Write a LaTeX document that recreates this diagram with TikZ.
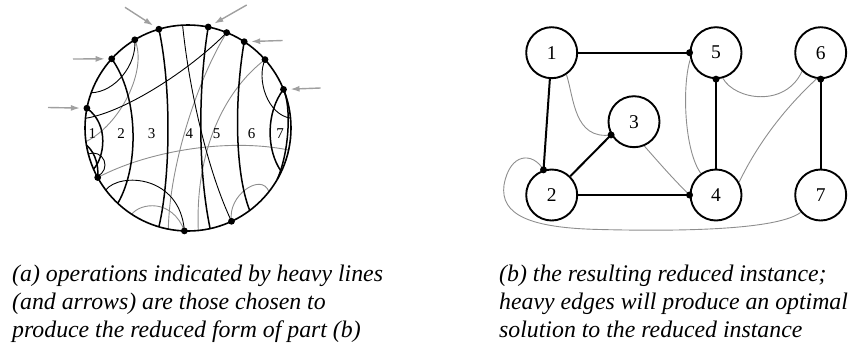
\documentclass[tikz,border=0pt]{standalone}
\usepackage{fontspec}
\setmainfont{Liberation Serif}
\usetikzlibrary{arrows.meta,calc}
\definecolor{gcol}{HTML}{8E8E8E}
\definecolor{acol}{HTML}{A0A0A0}
\begin{document}
\begin{tikzpicture}[x=1pt,y=-1pt,
  heavy/.style={line width=1.5pt},
  thinb/.style={line width=0.9pt},
  grayl/.style={line width=0.9pt,draw=gcol},
  arr/.style={line width=1.4pt,draw=acol,-{Latex[length=9pt,width=6pt]},shorten >=7pt},
  vnode/.style={circle,draw,line width=1.9pt,minimum size=51pt,inner sep=0pt,font=\fontsize{19.5}{20}\selectfont},
  gheavy/.style={line width=2pt},
  lab/.style={font=\fontsize{15}{16}\selectfont,inner sep=0pt},
  captext/.style={anchor=base west,inner sep=0pt,font=\fontsize{23.8}{28}\selectfont\itshape}]
\useasboundingbox (0,0) rectangle (852,346);

% ---------- part (a) ----------
\coordinate (C) at (188,128);
\coordinate (D1) at (86.9,108.2);
\coordinate (D2) at (111.7,58.8);
\coordinate (D3) at (134.8,39.8);
\coordinate (D4) at (158.9,29.2);
\coordinate (D5) at (208.2,27.0);
\coordinate (D6) at (226.7,32.6);
\coordinate (D7) at (244.2,41.7);
\coordinate (D8) at (265.0,59.6);
\coordinate (D9) at (283.5,89.4);
\coordinate (D10) at (97.7,177.5);
\coordinate (D11) at (184.4,230.9);
\coordinate (D12) at (231.5,221.3);
% other chord ends on the circle
\coordinate (E1) at (117.8,203.3);
\coordinate (E2) at (158.9,226.8);
\coordinate (E3) at (210.1,228.6);
\coordinate (E4) at (249.7,210.5);
\coordinate (E5) at (91.2,92.8);
\coordinate (E6) at (85.5,118.3);
\coordinate (E7) at (182.6,25.1);
\coordinate (E8) at (105.7,190.0);
\coordinate (E9) at (290.5,118.1);
\coordinate (E10) at (85.9,141.6);
\coordinate (E11) at (168.3,229.1);
\coordinate (E12) at (198.3,230.5);
\coordinate (E13) at (288.6,150.0);
\coordinate (E14) at (131.7,214.3);
\coordinate (E15) at (268.9,191.7);
\coordinate (E16) at (93.5,169.1);
\coordinate (E17) at (86.4,145.0);
\coordinate (E18) at (281.3,171.5);
\coordinate (E19) at (277.2,179.5);

% gray chords
\draw[grayl] (D3) .. controls (148,70) and (120,125) .. (E10);
\draw[grayl] (D6) .. controls (200,75) and (170,160) .. (E11);
\draw[grayl] (D8) .. controls (225,90) and (195,150) .. (E12);
\draw[grayl] (D10) .. controls (150,150) and (230,138) .. (E13);
\draw[grayl] (E14) .. controls (140,203) and (172,198) .. (D11);
\draw[grayl] (D12) .. controls (227,195) and (262,172) .. (E15);

% thin black chords
\draw[thinb] (D3) .. controls (137,65) and (115,92) .. (E5);
\draw[thinb] (D6) .. controls (190,70) and (125,112) .. (E6);
\draw[thinb] (E7) .. controls (188,80) and (205,165) .. (D12);
\draw[thinb] (E8) .. controls (120,172) and (180,175) .. (D11);
\draw[thinb] (D8) .. controls (256,80) and (268,115) .. (E9);
\begin{scope}
  \clip (C) circle (103pt);
  \draw[thinb] (93,165) circle (12pt);
\end{scope}

% heavy chords
\draw[heavy] (D2) .. controls (138,95) and (140,165) .. (E1);
\draw[heavy] (D4) .. controls (172,90) and (170,180) .. (E2);
\draw[heavy] (D5) .. controls (198,90) and (198,170) .. (E3);
\draw[heavy] (D7) .. controls (235,95) and (234,170) .. (E4);
\draw[heavy] (D1) .. controls (110,125) and (104,158) .. (E16);
\draw[heavy] (D10) .. controls (99,160) and (92,150) .. (E17);
\draw[heavy] (D9) .. controls (266,112) and (266,150) .. (E18);
\draw[heavy] (D9) .. controls (291,105) and (290,150) .. (E19);

% boundary circle
\draw[line width=1.6pt] (C) circle (103pt);

% dots
\foreach \d in {D1,D2,D3,D4,D5,D6,D7,D8,D9,D10,D11,D12}
  \fill (\d) circle (3.4pt);

% arrows
\coordinate (A1) at (48,107.5);
\coordinate (A2) at (73,59);
\coordinate (A3) at (125,7.3);
\coordinate (A4) at (246.7,5);
\coordinate (A5) at (282.7,40.5);
\coordinate (A6) at (320.7,88);
\draw[arr] (A1) -- (D1);
\draw[arr] (A2) -- (D2);
\draw[arr] (A3) -- (D4);
\draw[arr] (A4) -- (D5);
\draw[arr] (A5) -- (D7);
\draw[arr] (A6) -- (D9);

% region numbers
\node[lab] (l1) at (92.3,133.3) {1};
\node[lab] (l2) at (121,133.3) {2};
\node[lab] (l3) at (151.7,133.3) {3};
\node[lab] (l4) at (189.3,133.3) {4};
\node[lab] (l5) at (216.7,133.3) {5};
\node[lab] (l6) at (251.7,133.3) {6};
\node[lab] (l7) at (280,133.3) {7};

% ---------- part (b) ----------
\node[vnode] (n1) at (551.7,52.7) {1};
\node[vnode] (n5) at (716,52.7) {5};
\node[vnode] (n6) at (820.7,52.7) {6};
\node[vnode] (n3) at (634,121.7) {3};
\node[vnode] (n2) at (551.7,195) {2};
\node[vnode] (n4) at (716,195) {4};
\node[vnode] (n7) at (820.7,195) {7};

% gray edges
\draw[grayl] (n1.-56) .. controls (574,98) and (574,140) .. (n3.210);
\draw[grayl] (n5.194) .. controls (682,85) and (684,150) .. (n4.125);
\draw[grayl] (n5.-75) .. controls (735,100) and (785,108) .. (n6.225);
\draw[grayl] (n4.29) .. controls (758,143) and (785,108) .. (n6.261);
\draw[grayl] (n3.-67) .. controls (655,158) and (672,178) .. (n4.west);
\draw[grayl] (n2.108) .. controls (533,152) and (510,152) .. (504,185)
  .. controls (500,215) and (530,228) .. (600,229.5)
  .. controls (700,232) and (780,228) .. (n7.221);

% heavy edges
\draw[gheavy] (n1) -- (n5.west);
\draw[gheavy] (n1) -- (n2.108);
\draw[gheavy] (n2) -- (n3.210);
\draw[gheavy] (n2) -- (n4.west);
\draw[gheavy] (n5.south) -- (n4);
\draw[gheavy] (n6.south) -- (n7);
\foreach \p in {n5.west,n2.108,n3.210,n4.west,n5.south,n6.south}
  \fill (\p) circle (3.5pt);

% ---------- captions ----------
\node[captext] (ca1) at (12,281) {(a) operations indicated by heavy lines};
\node[captext] (ca2) at (12,309) {(and arrows) are those chosen to};
\node[captext] (ca3) at (12,337) {produce the reduced form of part (b)};
\node[captext] (cb1) at (499,281) {(b) the resulting reduced instance;};
\node[captext] (cb2) at (499,309) {heavy edges will produce an optimal};
\node[captext] (cb3) at (499,337) {solution to the reduced instance};
\end{tikzpicture}
\end{document}
